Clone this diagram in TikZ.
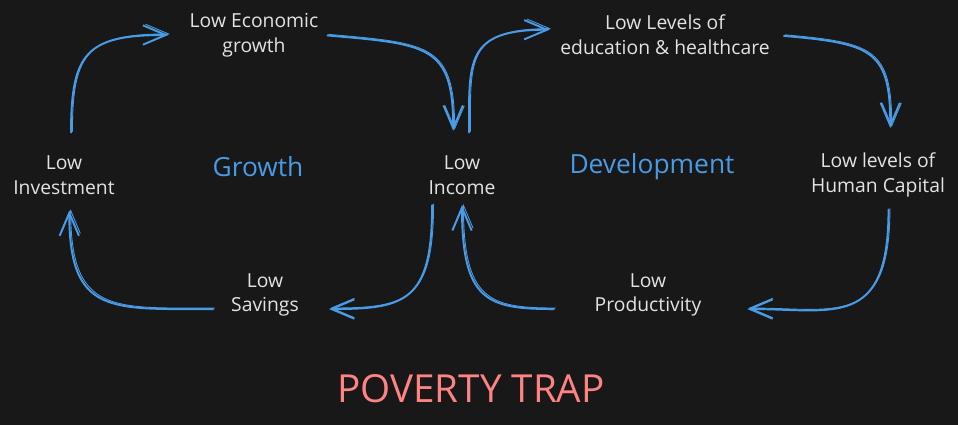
\documentclass[tikz,border=0pt]{standalone}
\usepackage{fontspec}
\setmainfont{Open Sans}
\usetikzlibrary{arrows.meta}

\definecolor{bgdark}{HTML}{181818}
\definecolor{chalk}{HTML}{E3E3E3}
\definecolor{arrowblue}{HTML}{4A9BE6}
\definecolor{trapred}{HTML}{FF8383}

\begin{document}
\begin{tikzpicture}[x=0.02cm, y=-0.02cm,
    box/.style={text=chalk, align=center, font=\fontsize{11}{14}\selectfont, inner sep=2pt},
    title/.style={text=arrowblue, font=\fontsize{15}{18}\selectfont},
    flow/.style={draw=arrowblue, line width=1.1pt, line cap=round, looseness=1.55,
        -{Straight Barb[length=13pt,width=11pt]},
        postaction={draw=arrowblue, line width=0.5pt, transform canvas={shift={(0.8pt,0.6pt)}}}}]

\fill[bgdark] (0,0) rectangle (958,425);
\useasboundingbox (0,0) rectangle (958,425);

\foreach \x/\y/\name/\txt in {64/175/inv/{Low\\Investment}, 254/35/econ/{Low Economic\\growth},
    462/175/inc/{Low\\Income}, 265/295/sav/{Low\\Savings}, 665/35/edu/{Low Levels of\\education \& healthcare},
    878/175/hum/{Low levels of\\Human Capital}, 648/295/prod/{Low\\Productivity}} {
    \node[box] (\name) at (\x,\y) {\txt};
}

\node[title] (growth) at (258,167) {Growth};
\node[title] (devel) at (652,167) {Development};
\node[text=trapred, font=\fontsize{22}{26}\selectfont] (trap) at (471,389) {POVERTY TRAP};

% growth loop
\draw[flow, shorten <=11pt, shorten >=10pt] ([xshift=4pt]inv.north) to[out=90,in=180] (econ.west);
\draw[flow, shorten <=3pt, shorten >=12pt] (econ.east) to[out=-5,in=90] ([xshift=-5pt]inc.north);
\draw[flow, shorten <=4pt, shorten >=15pt] ([xshift=-17pt]inc.south) to[out=-90,in=0] ([yshift=-8pt]sav.east);
\draw[flow, shorten <=8pt, shorten >=7pt] ([yshift=-8pt]sav.west) to[out=180,in=-90] ([xshift=3pt]inv.south);

% development loop
\draw[flow, shorten <=11pt, shorten >=4pt] ([xshift=4pt]inc.north) to[out=90,in=180] ([yshift=3pt]edu.west);
\draw[flow, shorten <=6pt, shorten >=12pt] (edu.east) to[out=-5,in=90] ([xshift=7pt]hum.north);
\draw[flow, shorten <=5pt, shorten >=24pt] ([xshift=6pt]hum.south) to[out=-90,in=0] ([yshift=-8pt]prod.east);
\draw[flow, shorten <=21pt, shorten >=4pt] ([yshift=-8pt]prod.west) to[out=180,in=-90] (inc.south);
\end{tikzpicture}
\end{document}
